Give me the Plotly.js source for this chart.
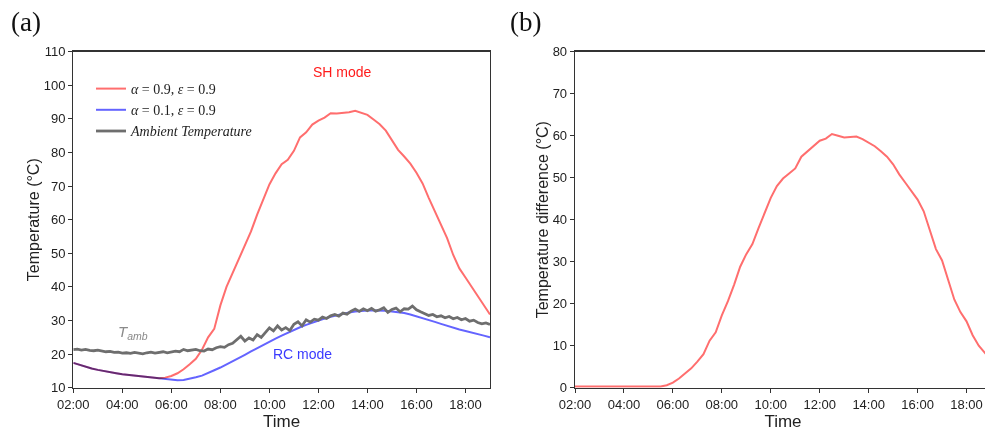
<!DOCTYPE html>
<html>
<head>
<meta charset="utf-8">
<script src="https://cdn.plot.ly/plotly-3.0.1.min.js"></script>
<style>
  html, body { margin: 0; padding: 0; overflow: hidden; background: #fff; }
  #chart { width: 1000px; height: 433px; }
</style>
</head>
<body>
<div id="chart"></div>
<script>
// ---- sampling times (HH:MM) ----
const timesQuarter = ["02:00","02:15","02:30","02:45","03:00","03:15","03:30","03:45","04:00","04:15","04:30","04:45",
  "05:00","05:15","05:30","05:45","06:00","06:15","06:30","06:45","07:00","07:15","07:30","07:45",
  "08:00","08:15","08:30","08:45","09:00","09:15","09:30","09:45","10:00","10:15","10:30","10:45",
  "11:00","11:15","11:30","11:45","12:00","12:15","12:30","12:45","13:00","13:15","13:30","13:45",
  "14:00","14:15","14:30","14:45","15:00","15:15","15:30","15:45","16:00","16:15","16:30","16:45",
  "17:00","17:15","17:30","17:45","18:00","18:15","18:30","18:45","19:00"];

const timesTen = ["02:00","02:10","02:20","02:30","02:40","02:50","03:00","03:10","03:20","03:30","03:40","03:50",
  "04:00","04:10","04:20","04:30","04:40","04:50","05:00","05:10","05:20","05:30","05:40","05:50",
  "06:00","06:10","06:20","06:30","06:40","06:50","07:00","07:10","07:20","07:30","07:40","07:50",
  "08:00","08:10","08:20","08:30","08:40","08:50","09:00","09:10","09:20","09:30","09:40","09:50",
  "10:00","10:10","10:20","10:30","10:40","10:50","11:00","11:10","11:20","11:30","11:40","11:50",
  "12:00","12:10","12:20","12:30","12:40","12:50","13:00","13:10","13:20","13:30","13:40","13:50",
  "14:00","14:10","14:20","14:30","14:40","14:50","15:00","15:10","15:20","15:30","15:40","15:50",
  "16:00","16:10","16:20","16:30","16:40","16:50","17:00","17:10","17:20","17:30","17:40","17:50",
  "18:00","18:10","18:20","18:30","18:40","18:50","19:00"];

// ---- series (°C) ----
const shMode = [17.4,16.8,16.2,15.7,15.3,14.9,14.6,14.3,14.0,13.8,13.6,13.4,
  13.2,13.0,12.8,13.0,13.5,14.3,15.5,17.0,18.6,21.3,25.0,27.5,
  34.5,40.0,44.0,48.5,52.5,56.5,61.5,66.0,70.5,73.8,76.5,77.8,
  80.5,84.5,86.0,88.3,89.5,90.4,91.7,91.6,91.7,92.0,92.4,91.9,
  91.2,89.8,88.4,86.5,83.8,80.8,78.8,76.7,74.0,70.8,66.5,62.5,
  58.5,54.5,49.5,45.5,42.8,40.0,37.2,34.5,31.8];

const rcMode = [17.4,16.8,16.2,15.7,15.3,14.9,14.6,14.3,14.0,13.8,13.6,13.4,
  13.2,13.0,12.8,12.5,12.3,12.2,12.3,12.6,13.1,13.6,14.3,15.2,
  16.0,16.9,17.8,18.8,19.8,20.8,21.8,22.8,23.7,24.6,25.5,26.4,
  27.2,28.0,28.7,29.4,30.0,30.6,31.1,31.6,32.0,32.4,32.7,32.9,
  33.0,33.0,33.0,32.9,32.7,32.5,32.2,31.8,31.3,30.8,30.2,29.6,
  29.0,28.4,27.8,27.3,26.9,26.5,26.0,25.5,25.0];

const ambient = [21.3,21.5,21.2,21.4,21.1,21.0,21.2,20.9,20.7,20.8,20.5,20.6,
  20.3,20.4,20.2,20.5,20.3,20.1,20.4,20.6,20.3,20.5,20.7,20.4,
  20.6,20.9,20.7,21.4,21.0,21.2,21.4,21.0,20.9,21.5,21.3,21.9,
  22.2,22.0,22.8,23.2,24.4,25.3,23.9,24.8,24.2,25.8,25.0,26.3,
  27.8,26.9,28.4,27.2,27.9,27.0,28.9,29.6,28.4,30.2,29.5,30.4,
  30.1,31.0,30.6,31.4,31.8,31.3,32.2,31.9,32.8,33.4,32.7,33.5,
  32.9,33.6,32.8,33.2,33.8,32.4,33.3,33.7,32.6,33.5,33.4,34.3,
  33.2,32.6,32.0,31.5,31.8,31.1,31.4,30.8,31.2,30.5,30.9,30.2,
  30.6,29.8,30.1,29.4,29.0,29.3,28.8];

const tempDiff = [0.3,0.3,0.3,0.3,0.3,0.3,0.3,0.3,0.3,0.3,0.3,0.3,
  0.3,0.3,0.3,0.6,1.2,2.2,3.3,4.6,6.2,8.0,11.2,13.2,
  17.2,20.6,24.5,28.8,31.8,34.2,38.0,41.5,45.2,48.0,49.8,51.0,
  52.2,55.0,56.3,57.6,58.8,59.3,60.4,60.0,59.6,59.7,59.8,59.2,
  58.3,57.5,56.3,55.0,53.2,50.8,48.8,46.8,44.8,42.0,37.5,33.0,
  30.3,25.5,21.0,18.0,15.8,12.5,10.0,8.3,6.5];

// ---- tick labels ----
const tickLabels = ["02:00","04:00","06:00","08:00","10:00","12:00","14:00","16:00","18:00"];

const legendNames = ["<i>α</i> = 0.9, <i>ε</i> = 0.9", "<i>α</i> = 0.1, <i>ε</i> = 0.9", "<i>Ambient Temperature</i>"];

// ---- helpers ----
function toHours(s) { const p = s.split(":"); return +p[0] + (+p[1]) / 60; }
const xQ = timesQuarter.map(toHours);
const xT = timesTen.map(toHours);
const tickVals = tickLabels.map(toHours);

const W = 1000, H = 433;
const px = v => v / W;
const py = v => (H - v) / H;

const red = "rgb(255,110,110)", blue = "rgb(100,100,255)", gray = "rgb(110,110,110)";
const axisColor = "#333";
const sans = "Liberation Sans, Arial, sans-serif";
const serif = "Liberation Serif, Times New Roman, serif";
const tickFont = { family: sans, size: 13, color: "#222" };

const traces = [
  { x: xQ, y: shMode, type: "scatter", mode: "lines", name: legendNames[0],
    line: { color: red, width: 2 }, xaxis: "x", yaxis: "y" },
  { x: xQ, y: rcMode, type: "scatter", mode: "lines", name: legendNames[1],
    line: { color: blue, width: 2 }, xaxis: "x", yaxis: "y" },
  { x: xT, y: ambient, type: "scatter", mode: "lines", name: legendNames[2],
    line: { color: gray, width: 2.8 }, xaxis: "x", yaxis: "y" },
  { x: xQ, y: tempDiff, type: "scatter", mode: "lines", name: "Temperature difference",
    showlegend: false, line: { color: red, width: 2 }, xaxis: "x2", yaxis: "y2" }
];

function xAxis(domain, anchor) {
  return {
    domain: domain, anchor: anchor, range: [2, 19],
    tickmode: "array", tickvals: tickVals, ticktext: tickLabels,
    showline: true, mirror: true, linecolor: axisColor, linewidth: 1.3,
    ticks: "outside", ticklen: 4, tickcolor: axisColor, tickwidth: 1,
    showgrid: false, zeroline: false, tickfont: tickFont,
    title: { text: "Time", font: { family: sans, size: 17, color: "#222" }, standoff: 4 }
  };
}
function yAxis(domain, anchor, range, title, standoff) {
  return {
    domain: domain, anchor: anchor, range: range, dtick: 10,
    showline: true, mirror: true, linecolor: axisColor, linewidth: 1.3,
    ticks: "outside", ticklen: 4, tickcolor: axisColor, tickwidth: 1,
    showgrid: false, zeroline: false, tickfont: tickFont,
    title: { text: title, font: { family: sans, size: 16, color: "#222" }, standoff: standoff }
  };
}

const yDom = [py(387.7), py(51.7)];

const layout = {
  width: W, height: H,
  margin: { l: 0, r: 0, t: 0, b: 0 },
  paper_bgcolor: "#fff", plot_bgcolor: "#fff",
  showlegend: true,
  legend: {
    x: px(91), y: py(73), xanchor: "left", yanchor: "top",
    bgcolor: "rgba(0,0,0,0)",
    font: { family: serif, size: 14, color: "#222" }
  },
  xaxis: xAxis([px(73.3), px(490)], "y"),
  yaxis: yAxis(yDom, "x", [10, 110], "Temperature (°C)", 0),
  xaxis2: xAxis([px(575), px(991)], "y2"),
  yaxis2: yAxis(yDom, "x2", [0, 80], "Temperature difference (°C)", 0),
  annotations: [
    { text: "SH mode", x: 12.99, y: 104, xref: "x", yref: "y", showarrow: false,
      font: { family: sans, size: 14, color: "#ff1a1a" } },
    { text: "RC mode", x: 11.36, y: 20, xref: "x", yref: "y", showarrow: false,
      font: { family: sans, size: 14, color: "#3a3aff" } },
    { text: "<i>T</i><sub><i>amb</i></sub>", x: 4.43, y: 26.3, xref: "x", yref: "y", showarrow: false,
      font: { family: sans, size: 15, color: "#8a8a8a" } },
    { text: "(a)", x: px(26), y: py(22), xref: "paper", yref: "paper", xanchor: "center", yanchor: "middle",
      showarrow: false, font: { family: serif, size: 27, color: "#111" } },
    { text: "(b)", x: px(525), y: py(22), xref: "paper", yref: "paper", xanchor: "center", yanchor: "middle",
      showarrow: false, font: { family: serif, size: 27, color: "#111" } }
  ]
};

Plotly.newPlot("chart", traces, layout, { displayModeBar: false, staticPlot: true }).then(function () {
  const groups = document.querySelectorAll(".xy .scatterlayer .trace");
  for (let i = 0; i < 2 && i < groups.length; i++) {
    groups[i].style.mixBlendMode = "multiply";
  }
});
</script>
</body>
</html>
